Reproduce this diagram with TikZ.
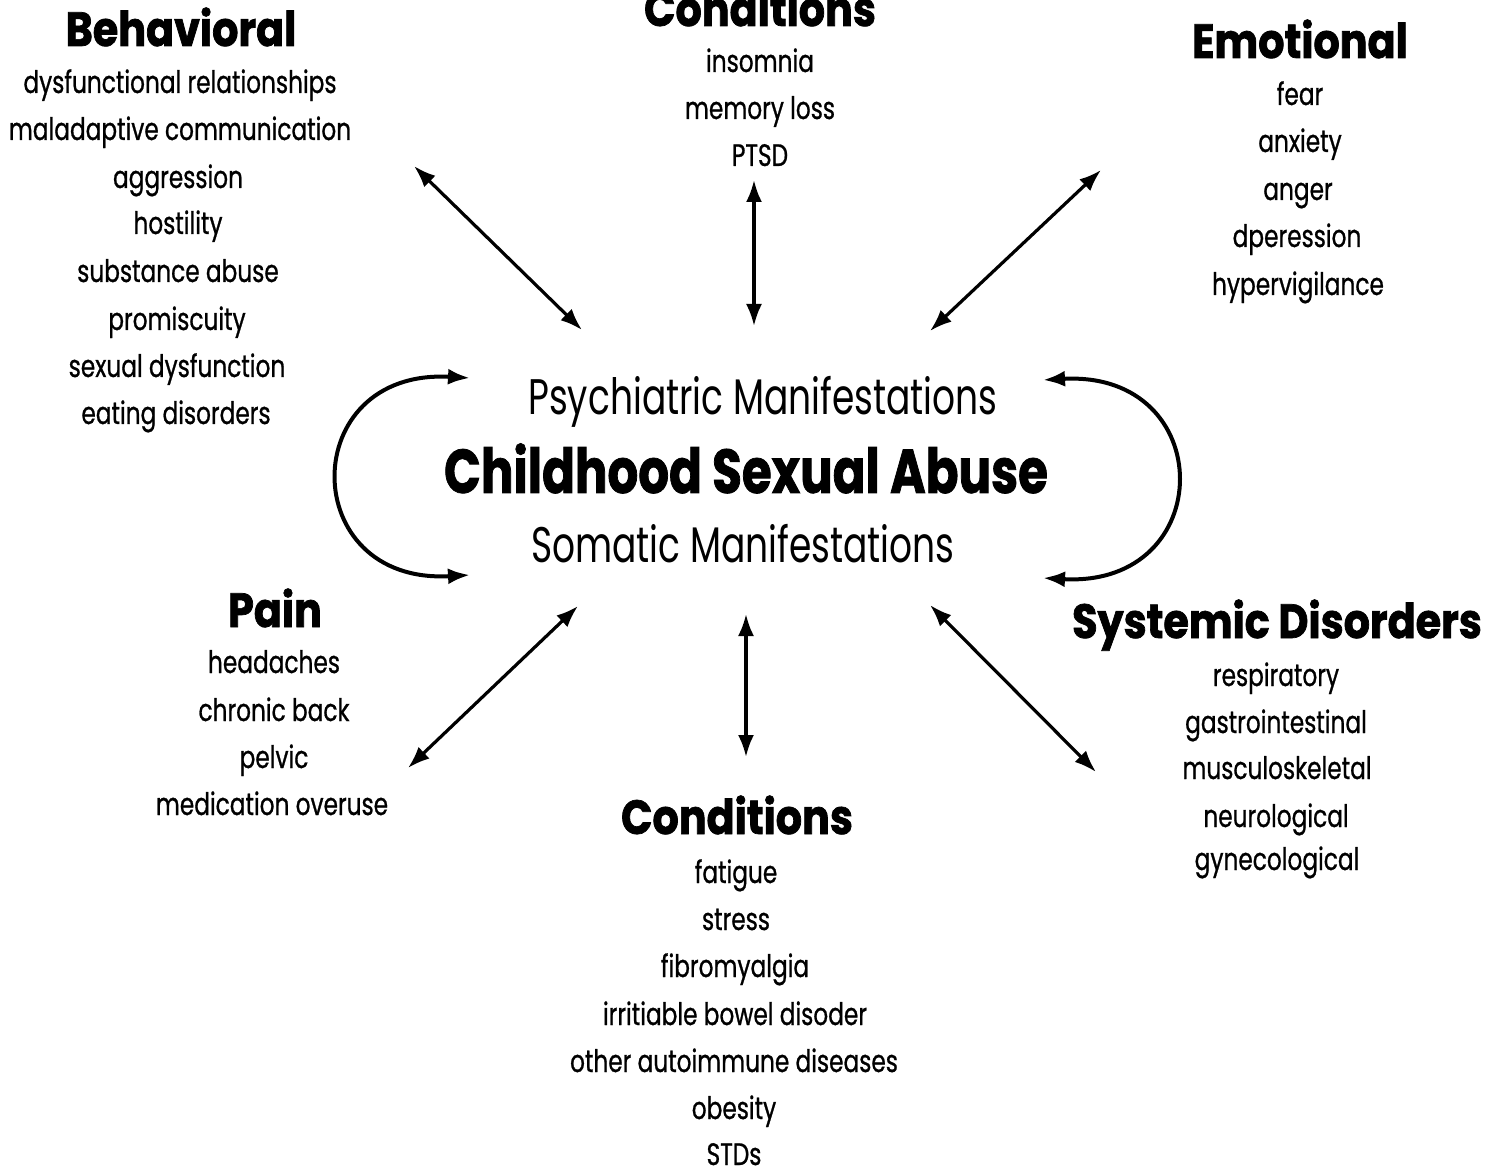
\documentclass[tikz,border=0pt]{standalone}
\usepackage{fontspec}
\setmainfont{Poppins}[FakeStretch=0.72]
\newfontfamily\itemfont{Poppins}[FakeStretch=0.75,FakeBold=0.8]
\newfontfamily\headfont{Poppins}[FakeStretch=0.86,BoldFeatures={FakeBold=1.5}]
\newfontfamily\titlefont{Poppins}[FakeStretch=0.78,BoldFeatures={FakeBold=1.2}]
\newfontfamily\maniffont{Poppins}[FakeStretch=0.72]
\usetikzlibrary{arrows.meta}
\tikzset{
  item/.style={font=\itemfont\fontsize{15.5}{18}\selectfont, text height=12pt, text depth=2pt, inner sep=0pt},
  head/.style={font=\headfont\fontsize{24}{28}\selectfont\bfseries, text height=17pt, text depth=1pt, inner sep=0pt},
  manif/.style={font=\maniffont\fontsize{25}{28}\selectfont, text height=18pt, text depth=1pt, inner sep=0pt},
  title/.style={font=\titlefont\fontsize{31}{34}\selectfont\bfseries, text height=22pt, text depth=1pt, inner sep=0pt},
  link/.style={line width=1.6pt, {Latex[length=11pt,width=8pt]}-{Latex[length=11pt,width=8pt]}},
  loop/.style={line width=2pt, {Latex[length=11pt,width=8pt]}-{Latex[length=11pt,width=8pt]}}
}
\begin{document}
\begin{tikzpicture}[x=0.5pt,y=-0.5pt]
\useasboundingbox (0,0) rectangle (1504,1170);
% centre
\node[manif] (psy) at (763,398) {Psychiatric Manifestations};
\node[title] (csa) at (746,472) {Childhood Sexual Abuse};
\node[manif] (som) at (743,546) {Somatic Manifestations};
% Behavioral
\node[head] (beh) at (181,30) {Behavioral};
\node[item] (b1) at (180,83) {dysfunctional relationships};
\node[item] (b2) at (180,130) {maladaptive communication};
\node[item] (b3) at (178,178) {aggression};
\node[item] (b4) at (178,224) {hostility};
\node[item] (b5) at (178,272) {substance abuse};
\node[item] (b6) at (177,320) {promiscuity};
\node[item] (b7) at (177,367) {sexual dysfunction};
\node[item] (b8) at (176,414) {eating disorders};
% Conditions top
\node[head] (cont) at (760,10) {Conditions};
\node[item] (c1) at (760,62) {insomnia};
\node[item] (c2) at (760,109) {memory loss};
\node[item] (c3) at (760,156) {PTSD};
% Emotional
\node[head] (emo) at (1300,42) {Emotional};
\node[item] (e1) at (1300,95) {fear};
\node[item] (e2) at (1300,142) {anxiety};
\node[item] (e3) at (1298,190) {anger};
\node[item] (e4) at (1297,237) {dperession};
\node[item] (e5) at (1298,285) {hypervigilance};
% Pain
\node[head] (pain) at (275,611) {Pain};
\node[item] (p1) at (274,663) {headaches};
\node[item] (p2) at (274,711) {chronic back};
\node[item] (p3) at (274,758) {pelvic};
\node[item] (p4) at (272,805) {medication overuse};
% Conditions bottom
\node[head] (conb) at (737,818) {Conditions};
\node[item] (d1) at (736,873) {fatigue};
\node[item] (d2) at (736,920) {stress};
\node[item] (d3) at (735,967) {fibromyalgia};
\node[item] (d4) at (735,1015) {irritiable bowel disoder};
\node[item] (d5) at (734,1062) {other autoimmune diseases};
\node[item] (d6) at (734,1109) {obesity};
\node[item] (d7) at (734,1155) {STDs};
% Systemic
\node[head] (sys) at (1277,622) {Systemic Disorders};
\node[item] (s1) at (1276,676) {respiratory};
\node[item] (s2) at (1276,723) {gastrointestinal};
\node[item] (s3) at (1277,769) {musculoskeletal};
\node[item] (s4) at (1276,817) {neurological};
\node[item] (s5) at (1277,860) {gynecological};
% arrow end points
\coordinate (aB1) at (414,166); \coordinate (aB2) at (582,330);
\coordinate (aC1) at (754,180); \coordinate (aC2) at (754,326);
\coordinate (aE1) at (1101,170); \coordinate (aE2) at (930,331);
\coordinate (aP1) at (408,768); \coordinate (aP2) at (578,606);
\coordinate (aD1) at (746,614); \coordinate (aD2) at (746,757);
\coordinate (aS1) at (930,605); \coordinate (aS2) at (1096,772);
\coordinate (lT) at (470,378); \coordinate (lB) at (470,575);
\coordinate (rT) at (1043,380); \coordinate (rB) at (1043,578);
\draw[link] (aB1) -- (aB2);
\draw[link] (aC1) -- (aC2);
\draw[link] (aE1) -- (aE2);
\draw[link] (aP1) -- (aP2);
\draw[link] (aD1) -- (aD2);
\draw[link] (aS1) -- (aS2);
\draw[loop] (lT) .. controls (296,368) and (296,585) .. (lB);
\draw[loop] (rT) .. controls (1219,370) and (1219,588) .. (rB);
\end{tikzpicture}
\end{document}
